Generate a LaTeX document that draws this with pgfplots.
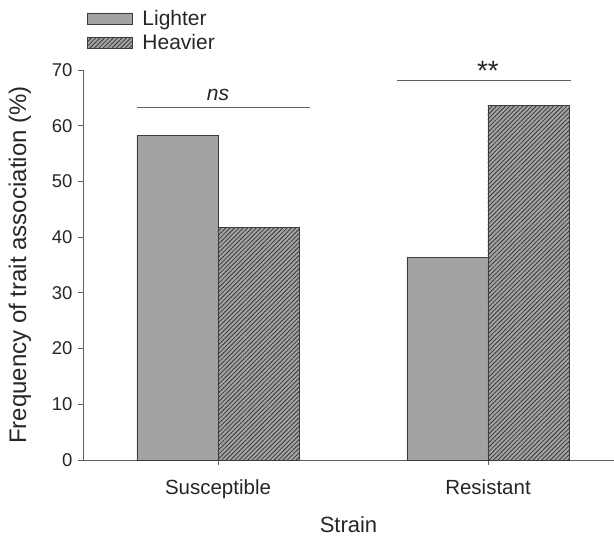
\documentclass[border=0pt]{standalone}
\usepackage{fontspec}
\setmainfont{Liberation Sans}
\usepackage{pgfplots}
\pgfplotsset{compat=1.18}
\usetikzlibrary{patterns.meta}
\definecolor{barfill}{RGB}{163,163,166}
\definecolor{baredge}{RGB}{60,60,60}
\definecolor{hatch}{RGB}{55,55,55}
\definecolor{axisgray}{RGB}{95,95,95}
\begin{document}
\begin{tikzpicture}
\begin{axis}[
  /pgf/number format/assume math mode=true,
  scale only axis,
  width=531bp, height=390bp,
  xmin=0.5, xmax=2.4667,
  ymin=0, ymax=70,
  axis x line*=bottom,
  axis y line*=left,
  axis line style={axisgray, line width=1pt},
  xtick={1,2},
  xticklabels={Susceptible,Resistant},
  ytick={0,10,...,70},
  tick style={axisgray, line width=0.8pt},
  tick align=outside,
  major tick length=5bp,
  x tick label style={font=\fontsize{20.5bp}{24bp}\selectfont, color=black!85, yshift=-11bp},
  y tick label style={font=\fontsize{18.5bp}{22bp}\selectfont, color=black!85, xshift=-2bp},
  xlabel={Strain},
  xlabel style={font=\fontsize{22bp}{26bp}\selectfont, color=black!85, at={(axis description cs:0.5,-0.1667)}, anchor=center},
  ylabel={Frequency of trait association (\%)},
  ylabel style={font=\fontsize{24bp}{28bp}\selectfont, color=black!85, at={(axis description cs:-0.1186,0.5)}, anchor=center, rotate=0},
  ybar,
  bar width=0.3,
  legend style={at={(rel axis cs:0.002,1.162)}, anchor=north west, draw=none, fill=none,
    font=\fontsize{21bp}{25bp}\selectfont, row sep=4.5bp, column sep=8bp,
    nodes={inner sep=1.5bp, text=black!85}},
  legend cell align=left,
  legend image code/.code={\draw[#1] (0bp,-5.5bp) rectangle (45bp,5.5bp);},
  clip=false,
]
\addplot[bar shift=-0.15, fill=barfill, draw=baredge, line width=0.7pt]
  coordinates {(1,58.2) (2,36.3)};
\addlegendentry{Lighter}
\addplot[bar shift=0.15, fill=barfill, draw=baredge, line width=0.7pt,
  postaction={pattern={Lines[angle=45,distance=3.1bp,line width=0.8bp]}, pattern color=hatch}]
  coordinates {(1,41.8) (2,63.7)};
\addlegendentry{Heavier}
% significance lines
\addplot[sharp plot, no marks, axisgray, line width=0.8pt, forget plot]
  coordinates {(0.70,63.2) (1.341,63.2)};
\addplot[sharp plot, no marks, axisgray, line width=0.8pt, forget plot]
  coordinates {(1.663,68.2) (2.307,68.2)};
\node[font=\fontsize{21bp}{25bp}\selectfont\itshape, anchor=base, color=black!85] at (axis cs:1,64.6) {ns};
\node[font=\fontsize{28bp}{32bp}\selectfont, anchor=base, color=black!85] at (axis cs:2,68.2) {**};
\end{axis}
\pgfresetboundingbox
\useasboundingbox (-83bp,-77bp) rectangle (531bp,460bp);
\end{tikzpicture}
\end{document}
